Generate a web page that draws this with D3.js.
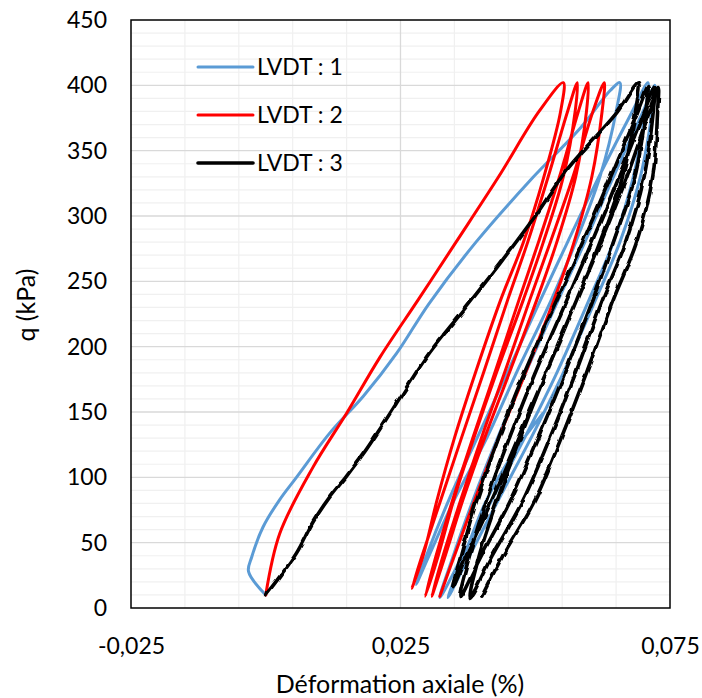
<!DOCTYPE html>
<html>
<head>
<meta charset="utf-8">
<script src="https://cdn.jsdelivr.net/npm/d3@7"></script>
<style>
  html, body { margin: 0; padding: 0; background: #fff; }
  svg { display: block; font-family: Lato, "Open Sans", sans-serif; }
</style>
</head>
<body>
<svg id="chart" width="702" height="698"></svg>
<script>
// ---- data (strain %, q kPa) ----
const seriesNames = ["LVDT : 1", "LVDT : 2", "LVDT : 3"];

const lvdt1 = [
  [0.0000,10],[-0.0032,28],[-0.0026,39],[-0.0005,62],[0.0026,83],[0.0057,100],[0.0119,134],[0.0181,162],
  [0.0243,195],[0.0303,233],[0.0390,280],[0.0490,327],[0.0585,368],[0.0639,396],[0.0657,402],
  [0.0650,380],[0.0620,330],[0.0575,280],[0.0530,236],[0.0465,180],[0.0410,130],[0.0350,83],[0.0303,40],[0.0279,18],
  [0.0298,40],[0.0340,83],[0.0392,130],[0.0448,180],[0.0510,236],[0.0560,280],[0.0618,330],[0.0680,380],[0.0709,402],
  [0.0704,380],[0.0682,330],[0.0645,280],[0.0600,236],[0.0540,180],[0.0480,130],[0.0420,83],[0.0365,40],[0.0323,8],
  [0.0348,40],[0.0385,83],[0.0430,130],[0.0482,180],[0.0543,236],[0.0592,280],[0.0645,330],[0.0700,380],[0.0722,400],
  [0.0717,380],[0.0695,330],[0.0657,280],[0.0612,236],[0.0552,180],[0.0492,130],[0.0432,83],[0.0378,40],[0.0338,8],
  [0.0368,40],[0.0410,83],[0.0462,120],[0.0514,149]
];

const lvdt2 = [
  [0.0000,10],[0.0026,57],[0.0088,108],[0.0150,149],[0.0212,192],[0.0283,236],[0.0353,280],[0.0432,330],[0.0507,380],[0.0552,402],
  [0.0547,380],[0.0516,330],[0.0478,280],[0.0436,236],[0.0389,180],[0.0350,130],[0.0318,83],[0.0292,40],[0.0271,15],
  [0.0290,40],[0.0325,83],[0.0363,130],[0.0404,180],[0.0449,236],[0.0486,280],[0.0524,330],[0.0560,380],[0.0578,402],
  [0.0574,380],[0.0552,330],[0.0515,280],[0.0478,236],[0.0428,180],[0.0386,130],[0.0349,83],[0.0320,40],[0.0296,9],
  [0.0316,40],[0.0347,83],[0.0384,130],[0.0425,180],[0.0470,236],[0.0506,280],[0.0545,330],[0.0580,380],[0.0598,402],
  [0.0595,380],[0.0575,330],[0.0540,280],[0.0503,236],[0.0452,180],[0.0406,130],[0.0366,83],[0.0333,40],[0.0308,9],
  [0.0329,40],[0.0362,83],[0.0400,130],[0.0443,180],[0.0490,236],[0.0528,280],[0.0570,330],[0.0607,380],[0.0628,402],
  [0.0624,380],[0.0605,330],[0.0572,280],[0.0535,236],[0.0482,180],[0.0432,130],[0.0388,83],[0.0350,40],[0.0323,9]
];

const lvdt3 = [
  [0.0000,10],[0.0026,24],[0.0057,42],[0.0088,66],[0.0119,85],[0.0150,101],[0.0181,118],[0.0212,137],
  [0.0243,157],[0.0274,177],[0.0305,196],[0.0367,228],[0.0435,264],[0.0500,300],
  [0.0558,335],[0.0651,379],[0.0691,402],
  [0.0686,380],[0.0662,330],[0.0620,280],[0.0577,236],[0.0520,180],[0.0468,130],[0.0420,83],[0.0372,40],[0.0347,16],
  [0.0362,40],[0.0392,83],[0.0432,130],[0.0480,180],[0.0540,236],[0.0588,280],[0.0640,330],[0.0690,380],[0.0709,399],
  [0.0705,380],[0.0685,330],[0.0645,280],[0.0607,236],[0.0555,180],[0.0505,130],[0.0455,83],[0.0400,40],[0.0360,8],
  [0.0378,40],[0.0410,83],[0.0452,130],[0.0500,180],[0.0559,236],[0.0605,280],[0.0655,330],[0.0703,380],[0.0722,399],
  [0.0719,380],[0.0702,330],[0.0668,280],[0.0625,236],[0.0575,180],[0.0527,130],[0.0478,83],[0.0420,40],[0.0379,8],
  [0.0396,40],[0.0430,83],[0.0472,130],[0.0520,180],[0.0577,236],[0.0622,280],[0.0670,330],[0.0712,380],[0.0728,399],
  [0.0727,380],[0.0718,330],[0.0688,280],[0.0645,236],[0.0595,180],[0.0548,130],[0.0500,83],[0.0440,40],[0.0401,9]
];

const xTickValues = [-0.025, 0.025, 0.075];
const yTickValues = [0, 50, 100, 150, 200, 250, 300, 350, 400, 450];
const xTitle = "Déformation axiale (%)";
const yTitle = "q (kPa)";

// ---- drawing ----
const svg = d3.select("#chart");
const plot = {left: 131, right: 670, top: 20, bottom: 608};

const x = d3.scaleLinear().domain([-0.025, 0.075]).range([plot.left, plot.right]);
const y = d3.scaleLinear().domain([0, 450]).range([plot.bottom, plot.top]);

const locale = d3.formatLocale({decimal: ",", thousands: " ", grouping: [3], currency: ["", " €"], minus: "-"});
const fmtX = locale.format(".3f");

// gentle wobble for the noisy LVDT 3 trace
const defs = svg.append("defs");
const flt = defs.append("filter").attr("id", "wobble")
  .attr("filterUnits", "userSpaceOnUse")
  .attr("x", 0).attr("y", 0).attr("width", 702).attr("height", 698);
flt.append("feTurbulence").attr("type", "fractalNoise").attr("baseFrequency", "0.09 0.09")
  .attr("numOctaves", 1).attr("seed", 5).attr("result", "noise");
flt.append("feDisplacementMap").attr("in", "SourceGraphic").attr("in2", "noise")
  .attr("scale", 4).attr("xChannelSelector", "R").attr("yChannelSelector", "G");

// grid
const g = svg.append("g");
const yMinor = d3.range(10, 450, 10).filter(v => v % 50 !== 0);
g.selectAll("line.ymin").data(yMinor).join("line")
  .attr("x1", plot.left).attr("x2", plot.right)
  .attr("y1", d => y(d)).attr("y2", d => y(d))
  .attr("stroke", "#f0f0f0").attr("stroke-width", 1.2);
const xMinor = d3.range(-0.015, 0.0751, 0.01).filter(v => Math.abs(v - 0.025) > 1e-6 && Math.abs(v - 0.075) > 1e-6);
g.selectAll("line.xmin").data(xMinor).join("line")
  .attr("y1", plot.top).attr("y2", plot.bottom)
  .attr("x1", d => x(d)).attr("x2", d => x(d))
  .attr("stroke", "#f0f0f0").attr("stroke-width", 1.2);
g.selectAll("line.ymaj").data(yTickValues.filter(v => v > 0 && v < 450)).join("line")
  .attr("x1", plot.left).attr("x2", plot.right)
  .attr("y1", d => y(d)).attr("y2", d => y(d))
  .attr("stroke", "#d9d9d9").attr("stroke-width", 1.3);
g.selectAll("line.xmaj").data([0.025]).join("line")
  .attr("y1", plot.top).attr("y2", plot.bottom)
  .attr("x1", d => x(d)).attr("x2", d => x(d))
  .attr("stroke", "#d9d9d9").attr("stroke-width", 1.3);

// series
const line = d3.line().x(d => x(d[0])).y(d => y(d[1])).curve(d3.curveCatmullRom.alpha(0.5));
const series = [
  {name: seriesNames[0], data: lvdt1, color: "#5b9bd5", width: 3},
  {name: seriesNames[1], data: lvdt2, color: "#ff0000", width: 3},
  {name: seriesNames[2], data: lvdt3, color: "#000000", width: 3.6, filter: true}
];
series.forEach(s => {
  const p = svg.append("path").datum(s.data)
    .attr("d", line).attr("fill", "none")
    .attr("stroke", s.color).attr("stroke-width", s.width)
    .attr("stroke-linejoin", "round").attr("stroke-linecap", "round");
  if (s.filter) p.attr("filter", "url(#wobble)");
});

// plot border
svg.append("rect").attr("x", plot.left).attr("y", plot.top)
  .attr("width", plot.right - plot.left).attr("height", plot.bottom - plot.top)
  .attr("fill", "none").attr("stroke", "#000").attr("stroke-width", 1.5);

// axes labels
const yAxis = d3.axisLeft(y).tickValues(yTickValues).tickSize(0).tickPadding(24);
const ya = svg.append("g").attr("transform", `translate(${plot.left},0)`).call(yAxis);
ya.select(".domain").remove();
ya.selectAll("text").attr("font-size", 23).attr("fill", "#000").attr("font-family", "Lato");

const xAxis = d3.axisBottom(x).tickValues(xTickValues).tickFormat(fmtX).tickSize(0).tickPadding(30);
const xa = svg.append("g").attr("transform", `translate(0,${plot.bottom})`).call(xAxis);
xa.select(".domain").remove();
xa.selectAll("text").attr("font-size", 23).attr("fill", "#000").attr("font-family", "Lato");

svg.append("text").attr("x", 400).attr("y", 693).attr("text-anchor", "middle")
  .attr("font-size", 25).text(xTitle);
svg.append("text").attr("transform", "translate(35,305) rotate(-90)").attr("text-anchor", "middle")
  .attr("font-size", 25).text(yTitle);

// legend
const legY = [67, 115, 163];
series.forEach((s, i) => {
  svg.append("line").attr("x1", 198).attr("x2", 253).attr("y1", legY[i]).attr("y2", legY[i])
    .attr("stroke", s.color).attr("stroke-width", s.width).attr("stroke-linecap", "round");
  svg.append("text").attr("x", 257).attr("y", legY[i]).attr("dy", "0.36em")
    .attr("font-size", 23).text(s.name);
});
</script>
</body>
</html>
